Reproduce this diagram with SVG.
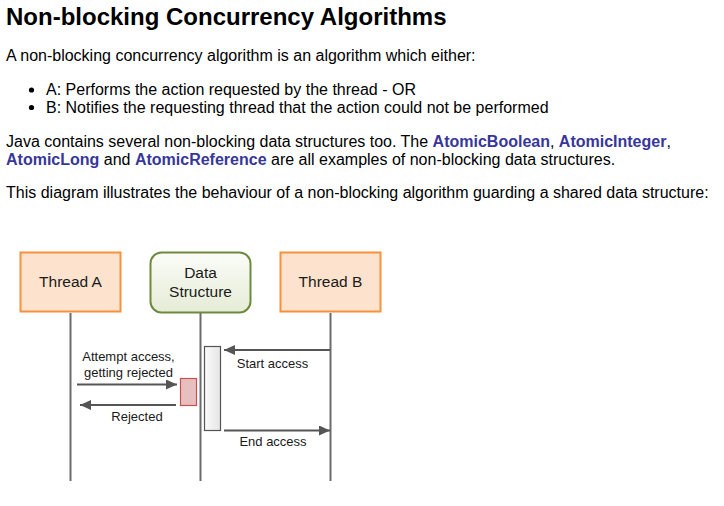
<svg xmlns="http://www.w3.org/2000/svg" width="724" height="506" viewBox="0 0 724 506">
<style>
  .body { font-family: "Liberation Sans", Arial, sans-serif; font-size: 16px; fill: #000; }
  .title { font-family: "Liberation Sans", Arial, sans-serif; font-size: 24px; font-weight: bold; fill: #000; }
  .link { font-weight: bold; fill: #37379b; }
  .node-text { font-family: "Liberation Sans", Arial, sans-serif; font-size: 15.5px; fill: #1a1a1a; text-anchor: middle; }
  .lbl { font-family: "Liberation Sans", Arial, sans-serif; font-size: 13px; fill: #1a1a1a; text-anchor: middle; }
  .thread { fill: #fde3cd; stroke: #f7913d; stroke-width: 2; }
  .life { stroke: #6b6b6b; stroke-width: 2; fill: none; }
  .msg { stroke: #555; stroke-width: 2; fill: none; marker-end: url(#arrow); }
</style>
<defs>
  <marker id="arrow" markerUnits="userSpaceOnUse" markerWidth="12" markerHeight="10" refX="11" refY="5" orient="auto">
    <path d="M0,0 L11,5 L0,10 z" fill="#555"/>
  </marker>
  <linearGradient id="dsGrad" x1="0" y1="0" x2="0" y2="1">
    <stop offset="0" stop-color="#fbfcf8"/>
    <stop offset="1" stop-color="#e5ecd6"/>
  </linearGradient>
  <linearGradient id="actGrad" x1="0" y1="0" x2="1" y2="0">
    <stop offset="0" stop-color="#fafafa"/>
    <stop offset="1" stop-color="#e6e6e6"/>
  </linearGradient>
</defs>
<rect width="724" height="506" fill="#fff"/>

<g id="text">
  <text class="title" x="6" y="25">Non-blocking Concurrency Algorithms</text>
  <text class="body" x="6" y="61">A non-blocking concurrency algorithm is an algorithm which either:</text>
  <circle cx="31.5" cy="90" r="2.6" fill="#000"/>
  <circle cx="31.5" cy="107.5" r="2.6" fill="#000"/>
  <text class="body" x="46" y="95">A: Performs the action requested by the thread - OR</text>
  <text class="body" x="46" y="112.5">B: Notifies the requesting thread that the action could not be performed</text>
  <text class="body" x="6" y="146.5">Java contains several non-blocking data structures too. The <tspan class="link">AtomicBoolean</tspan>, <tspan class="link">AtomicInteger</tspan>,</text>
  <text class="body" x="6" y="164.5"><tspan class="link">AtomicLong</tspan> and <tspan class="link">AtomicReference</tspan> are all examples of non-blocking data structures.</text>
  <text class="body" x="6" y="198">This diagram illustrates the behaviour of a non-blocking algorithm guarding a shared data structure:</text>
</g>

<g id="lifelines">
  <line class="life" x1="70.5" y1="313" x2="70.5" y2="481"/>
  <line class="life" x1="200.5" y1="313" x2="200.5" y2="481"/>
  <line class="life" x1="330.5" y1="313" x2="330.5" y2="481"/>
</g>

<g id="threadA">
  <rect class="thread" x="20.5" y="252.5" width="100" height="59"/>
  <text class="node-text" x="70.5" y="287">Thread A</text>
</g>
<g id="dataStructure">
  <rect x="150.5" y="252.5" width="100" height="60" rx="11" ry="11" fill="url(#dsGrad)" stroke="#6e8b3d" stroke-width="2"/>
  <text class="node-text" x="200.5" y="278">Data</text>
  <text class="node-text" x="200.5" y="297">Structure</text>
</g>
<g id="threadB">
  <rect class="thread" x="280.5" y="252.5" width="100" height="59"/>
  <text class="node-text" x="330.5" y="287">Thread B</text>
</g>

<g id="activation">
  <rect x="204.5" y="346.5" width="16" height="84" fill="url(#actGrad)" stroke="#555" stroke-width="1.2"/>
</g>
<g id="rejectBox">
  <rect x="180.5" y="378.5" width="16" height="27" fill="#e8bfbf" stroke="#c85050" stroke-width="1.2"/>
</g>

<g id="connectors">
  <line class="msg" x1="330" y1="350" x2="224" y2="350"/>
  <line class="msg" x1="77" y1="384.5" x2="177" y2="384.5"/>
  <line class="msg" x1="176" y1="405" x2="80" y2="405"/>
  <line class="msg" x1="224" y1="430.5" x2="330" y2="430.5"/>
  <text class="lbl" x="128.5" y="361">Attempt access,</text>
  <text class="lbl" x="128.5" y="377">getting rejected</text>
  <text class="lbl" x="137" y="420.5">Rejected</text>
  <text class="lbl" x="272.5" y="367.5">Start access</text>
  <text class="lbl" x="273" y="445.5">End access</text>
</g>
</svg>
